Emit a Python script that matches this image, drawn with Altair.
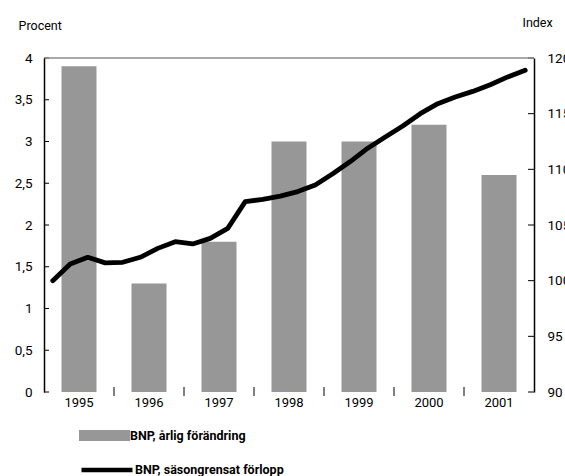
import altair as alt
import pandas as pd

FONT = "Roboto, Liberation Sans, sans-serif"

# Annual GDP growth, percent
years = [1995, 1996, 1997, 1998, 1999, 2000, 2001]
annual_growth = [3.9, 1.3, 1.8, 3.0, 3.0, 3.2, 2.6]

# Seasonally adjusted GDP, index, one value per quarter
quarter_years = [y for y in years for _ in range(4)]
quarter_numbers = [1, 2, 3, 4] * len(years)
index_values = [
    100.0, 101.5, 102.1, 101.6,
    101.65, 102.1, 102.9, 103.5,
    103.3, 103.8, 104.7, 107.1,
    107.3, 107.6, 108.0, 108.6,
    109.6, 110.7, 111.9, 112.9,
    113.9, 115.0, 115.9, 116.5,
    117.0, 117.6, 118.3, 118.9,
]

percent_ticks = [0, 0.5, 1, 1.5, 2, 2.5, 3, 3.5, 4]
index_ticks = [90, 95, 100, 105, 110, 115, 120]
year_bounds = [1996, 1997, 1998, 1999, 2000, 2001]

BAR_NAME = "BNP, årlig förändring"
LINE_NAME = "BNP, säsongrensat förlopp"

W, H = 490, 334

bar_df = pd.DataFrame({"year": years, "value": annual_growth})
bar_df["start"] = bar_df["year"] + 0.25
bar_df["end"] = bar_df["year"] + 0.75
bar_df["mid"] = bar_df["year"] + 0.5
bar_df["serie"] = BAR_NAME

q_df = pd.DataFrame({"year": quarter_years, "q": quarter_numbers, "index": index_values})
q_df["t"] = q_df["year"] + (q_df["q"] - 0.5) / 4
q_df["serie"] = LINE_NAME

x_scale = alt.Scale(domain=[1995, 2002], nice=False, zero=False)
pct_scale = alt.Scale(domain=[0, 4], nice=False, zero=False)
idx_scale = alt.Scale(domain=[90, 120], nice=False, zero=False)

common_axis = dict(
    ticks=False, grid=False, domainColor="black", domainWidth=1.5,
    labelFont=FONT, labelFontSize=13.5, labelColor="black",
    titleFont=FONT, titleFontSize=12.5, titleFontWeight="normal", titleColor="black",
    zindex=1,
)

legend_text = dict(
    title=None, orient="none", padding=0, symbolSize=2601,
    labelFont=FONT, labelFontSize=12.5, labelFontWeight="bold",
    labelColor="black", labelOffset=0, labelLimit=300,
)

bars = alt.Chart(bar_df).mark_bar().encode(
    x=alt.X("start:Q", scale=x_scale,
            axis=alt.Axis(labels=False, title=None, **common_axis)),
    x2="end:Q",
    y=alt.Y(
        "value:Q", scale=pct_scale,
        axis=alt.Axis(values=percent_ticks,
                      labelExpr="replace('' + datum.value, '.', ',')",
                      labelPadding=12, labelFlush=False, title="Procent", titleAngle=0,
                      titleX=-26, titleY=-33, titleAlign="left", titleBaseline="middle",
                      **common_axis),
    ),
    y2=alt.datum(0),
    fill=alt.Fill(
        "serie:N", scale=alt.Scale(domain=[BAR_NAME], range=["#979797"]),
        legend=alt.Legend(
            legendX=35, legendY=352,
            symbolType="M-1,-0.2157L1,-0.2157L1,0.2157L-1,0.2157Z",
            symbolStrokeWidth=0, **legend_text,
        ),
    ),
)

# Year labels centred under each bar
year_labels = alt.Chart(bar_df).mark_text(
    font=FONT, fontSize=13, baseline="top", align="center", color="black"
).encode(
    x=alt.X("mid:Q", scale=x_scale, axis=None),
    y=alt.value(H + 5),
    text=alt.Text("year:N"),
)

left_ticks = alt.Chart(pd.DataFrame({"v": percent_ticks})).mark_rule(color="black", strokeWidth=1).encode(
    y=alt.Y("v:Q", scale=pct_scale, axis=None),
    x=alt.value(0), x2=alt.value(5),
)

line = alt.Chart(q_df).mark_line(strokeWidth=4.8, strokeCap="round", strokeJoin="round").encode(
    x=alt.X("t:Q", scale=x_scale, axis=None),
    y=alt.Y(
        "index:Q", scale=idx_scale,
        axis=alt.Axis(orient="right", values=index_ticks, labelPadding=13, labelFlush=False,
                      title="Index", titleAngle=0, titleX=-12, titleY=-36, titleAlign="left",
                      titleBaseline="middle", **common_axis),
    ),
    stroke=alt.Stroke(
        "serie:N", scale=alt.Scale(domain=[LINE_NAME], range=["black"]),
        legend=alt.Legend(
            legendX=35, legendY=384, symbolType="stroke", symbolStrokeWidth=4.5,
            **legend_text,
        ),
    ),
)

right_ticks = alt.Chart(pd.DataFrame({"v": index_ticks})).mark_rule(color="black", strokeWidth=1).encode(
    y=alt.Y("v:Q", scale=idx_scale, axis=None),
    x=alt.value(W), x2=alt.value(W - 6),
)

bottom_ticks = alt.Chart(pd.DataFrame({"b": year_bounds})).mark_rule(color="black", strokeWidth=1).encode(
    x=alt.X("b:Q", scale=x_scale, axis=None),
    y=alt.value(H - 5), y2=alt.value(H + 4),
)

# Thin grey frame line along the top of the plot
top_frame = alt.Chart(pd.DataFrame({"v": [4]})).mark_rule(color="#8c8c8c", strokeWidth=1.5).encode(
    y=alt.Y("v:Q", scale=pct_scale, axis=None),
    x=alt.value(0), x2=alt.value(W),
)

chart = (
    alt.layer(bars, year_labels, left_ticks, line, right_ticks, bottom_ticks, top_frame)
    .resolve_scale(y="independent", fill="independent", stroke="independent")
    .properties(
        width=W, height=H,
        autosize=alt.AutoSizeParams(type="none"),
        padding={"left": 44, "top": 58, "right": 31, "bottom": 84},
        background="white",
    )
    .configure_view(stroke=None)
)

chart.save("out.html", embed_options={"renderer": "svg", "actions": False})
